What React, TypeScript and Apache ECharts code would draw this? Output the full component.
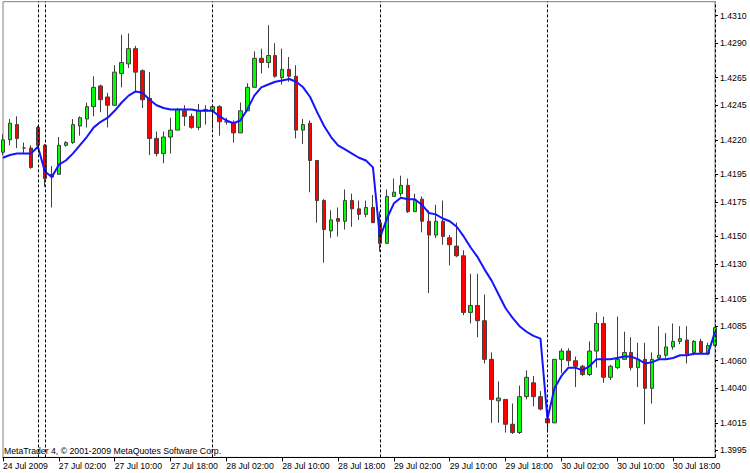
import React, { useEffect, useRef } from "react";
import * as echarts from "echarts";

const FONT = "'Liberation Sans', Arial, sans-serif";
const FONT_SIZE = 8.7;

// Time categories (H1 bars)
const preBars = ["24 Jul 18:00", "24 Jul 19:00", "24 Jul 20:00", "24 Jul 21:00", "24 Jul 22:00", "26 Jul 23:00"];
const fullDays = ["27 Jul", "28 Jul", "29 Jul", "30 Jul"];
const lastBar = ["31 Jul 00:00"];

// Bottom axis labels
const xLabelIdx = [0, 8, 16, 24, 32, 40, 48, 56, 64, 72, 80, 88, 96];
const xLabelText = [
  "24 Jul 2009", "27 Jul 02:00", "27 Jul 10:00", "27 Jul 18:00", "28 Jul 02:00", "28 Jul 10:00",
  "28 Jul 18:00", "29 Jul 02:00", "29 Jul 10:00", "29 Jul 18:00", "30 Jul 02:00", "30 Jul 10:00", "30 Jul 18:00",
];

// Right price axis labels
const yTicks = [1.3995, 1.4015, 1.404, 1.406, 1.4085, 1.4105, 1.413, 1.415, 1.4175, 1.4195, 1.422, 1.4245, 1.4265, 1.429, 1.431];

// Period separators (bar indices)
const separatorIdx = [5, 6, 30, 54, 78, 102];

// [open, close, low, high]
const candles = [
  [1.4211, 1.4220, 1.4209, 1.4224], [1.4220, 1.4232, 1.4216, 1.4235], [1.4231, 1.4221, 1.4214, 1.4237],
  [1.4214, 1.4214, 1.4210, 1.4218], [1.4214, 1.4200, 1.4199, 1.4216], [1.4229, 1.4216, 1.4214, 1.4230],
  [1.4216, 1.4192, 1.4186, 1.4217], [1.4195, 1.4193, 1.4171, 1.4201], [1.4195, 1.4216, 1.4195, 1.4222],
  [1.4216, 1.4218, 1.4215, 1.4219], [1.4218, 1.4231, 1.4217, 1.4235], [1.4230, 1.4236, 1.4223, 1.4237],
  [1.4235, 1.4244, 1.4229, 1.4247], [1.4244, 1.4258, 1.4237, 1.4266], [1.4259, 1.4249, 1.4240, 1.4260],
  [1.4251, 1.4245, 1.4229, 1.4254], [1.4245, 1.4269, 1.4245, 1.4274], [1.4268, 1.4276, 1.4258, 1.4296],
  [1.4275, 1.4286, 1.4272, 1.4297], [1.4286, 1.4269, 1.4255, 1.4288], [1.4270, 1.4249, 1.4243, 1.4271],
  [1.4250, 1.4221, 1.4209, 1.4269], [1.4221, 1.4210, 1.4208, 1.4226], [1.4210, 1.4222, 1.4203, 1.4226],
  [1.4222, 1.4227, 1.4210, 1.4236], [1.4227, 1.4242, 1.4227, 1.4243], [1.4241, 1.4237, 1.4230, 1.4245],
  [1.4237, 1.4229, 1.4228, 1.4239], [1.4229, 1.4241, 1.4227, 1.4246], [1.4241, 1.4242, 1.4231, 1.4245],
  [1.4241, 1.4244, 1.4228, 1.4245], [1.4244, 1.4233, 1.4223, 1.4245], [1.4233, 1.4233, 1.4231, 1.4236],
  [1.4232, 1.4225, 1.4218, 1.4234], [1.4225, 1.4241, 1.4225, 1.4247], [1.4241, 1.4258, 1.4241, 1.4261],
  [1.4258, 1.4279, 1.4258, 1.4284], [1.4279, 1.4276, 1.4268, 1.4286], [1.4276, 1.4281, 1.4272, 1.4303],
  [1.4281, 1.4266, 1.4265, 1.4290], [1.4265, 1.4271, 1.4260, 1.4286], [1.4271, 1.4266, 1.4262, 1.4280],
  [1.4266, 1.4227, 1.4221, 1.4274], [1.4227, 1.4231, 1.4217, 1.4235], [1.4232, 1.4205, 1.4182, 1.4234],
  [1.4205, 1.4176, 1.4160, 1.4205], [1.4176, 1.4155, 1.4131, 1.4177], [1.4154, 1.4162, 1.4149, 1.4169],
  [1.4163, 1.4161, 1.4150, 1.4171], [1.4161, 1.4176, 1.4155, 1.4184], [1.4176, 1.4170, 1.4157, 1.4181],
  [1.4170, 1.4166, 1.4162, 1.4176], [1.4166, 1.4171, 1.4164, 1.4176], [1.4171, 1.4160, 1.4160, 1.4180],
  [1.4160, 1.4145, 1.4139, 1.4168], [1.4145, 1.4179, 1.4145, 1.4184], [1.4179, 1.4182, 1.4179, 1.4192],
  [1.4181, 1.4187, 1.4179, 1.4194], [1.4187, 1.4168, 1.4167, 1.4192], [1.4168, 1.4176, 1.4168, 1.4181],
  [1.4177, 1.4161, 1.4153, 1.4179], [1.4161, 1.4151, 1.4109, 1.4169], [1.4151, 1.4161, 1.4149, 1.4173],
  [1.4161, 1.4150, 1.4144, 1.4176], [1.4149, 1.4144, 1.4129, 1.4151], [1.4143, 1.4136, 1.4135, 1.4160],
  [1.4136, 1.4095, 1.4093, 1.4140], [1.4095, 1.4100, 1.4087, 1.4123], [1.4100, 1.4089, 1.4077, 1.4123],
  [1.4089, 1.4061, 1.4058, 1.4108], [1.4061, 1.4032, 1.4015, 1.4066], [1.4031, 1.4033, 1.4015, 1.4045],
  [1.4032, 1.4014, 1.4008, 1.4032], [1.4014, 1.4008, 1.4007, 1.4029], [1.4008, 1.4034, 1.4007, 1.4042],
  [1.4034, 1.4048, 1.4032, 1.4053], [1.4044, 1.4034, 1.4027, 1.4049], [1.4034, 1.4025, 1.4024, 1.4038],
  [1.4018, 1.4015, 1.4008, 1.4024], [1.4015, 1.4061, 1.4015, 1.4061], [1.4061, 1.4067, 1.4051, 1.4069],
  [1.4067, 1.4060, 1.4056, 1.4069], [1.4060, 1.4056, 1.4041, 1.4063], [1.4056, 1.4050, 1.4049, 1.4057],
  [1.4050, 1.4067, 1.4049, 1.4074], [1.4067, 1.4087, 1.4055, 1.4095], [1.4087, 1.4048, 1.4044, 1.4092],
  [1.4048, 1.4056, 1.4046, 1.4057], [1.4055, 1.4061, 1.4054, 1.4092], [1.4061, 1.4066, 1.4061, 1.4081],
  [1.4066, 1.4055, 1.4053, 1.4077], [1.4055, 1.4061, 1.4041, 1.4073], [1.4061, 1.4040, 1.4014, 1.4073],
  [1.4040, 1.4061, 1.4029, 1.4066], [1.4062, 1.4064, 1.4061, 1.4085], [1.4064, 1.4070, 1.4062, 1.4080],
  [1.4070, 1.4074, 1.4068, 1.4087], [1.4074, 1.4076, 1.4072, 1.4085], [1.4075, 1.4065, 1.4058, 1.4085],
  [1.4066, 1.4074, 1.4064, 1.4075], [1.4074, 1.4066, 1.4065, 1.4076], [1.4065, 1.4071, 1.4064, 1.4073],
  [1.4071, 1.4084, 1.4071, 1.4084],
];

// Moving average (blue)
const maValues = [
  1.4207, 1.4209, 1.4210, 1.4210, 1.4210, 1.4215, 1.4197, 1.4193, 1.4202, 1.4205,
  1.4210, 1.4216, 1.4222, 1.4229, 1.4233, 1.4236, 1.4241, 1.4247, 1.4252, 1.4255,
  1.4254, 1.4249, 1.4245, 1.4243, 1.4242, 1.4242, 1.4242, 1.4242, 1.4241, 1.4241,
  1.4241, 1.4237, 1.4234, 1.4232, 1.4234, 1.4242, 1.4252, 1.4258, 1.4260, 1.4262,
  1.4263, 1.4264, 1.4262, 1.4258, 1.4251, 1.4240, 1.4230, 1.4222, 1.4216, 1.4213,
  1.4210, 1.4207, 1.4205, 1.4200, 1.4149, 1.4163, 1.4174, 1.4178, 1.4177, 1.4177,
  1.4173, 1.4167, 1.4166, 1.4163, 1.4161, 1.4157, 1.4150, 1.4142, 1.4135, 1.4126,
  1.4118, 1.4108, 1.4098, 1.4091, 1.4085, 1.4081, 1.4078, 1.4076, 1.4018, 1.4040,
  1.4049, 1.4055, 1.4055, 1.4053, 1.4056, 1.4061, 1.4061, 1.4061, 1.4062, 1.4063,
  1.4063, 1.4061, 1.4058, 1.4059, 1.4061, 1.4061, 1.4062, 1.4064, 1.4064, 1.4065,
  1.4065, 1.4065, 1.4081,
];

function buildCategories(): string[] {
  const out: string[] = [...preBars];
  fullDays.forEach((d) => {
    for (let h = 0; h < 24; h++) out.push(`${d} ${h < 10 ? "0" : ""}${h}:00`);
  });
  return out.concat(lastBar);
}

export default function App() {
  const ref = useRef<HTMLDivElement>(null);

  useEffect(() => {
    if (!ref.current) return;
    const chart = echarts.init(ref.current, undefined, { renderer: "svg" });
    const categories = buildCategories();

    const option: any = {
      animation: false,
      backgroundColor: "#ffffff",
      textStyle: { fontFamily: FONT },
      grid: {
        left: 2,
        top: 1.7,
        width: 713,
        height: 455.7,
        show: true,
        borderColor: "#808080",
        borderWidth: 1,
        backgroundColor: "transparent",
        containLabel: false,
      },
      xAxis: {
        type: "category",
        data: categories,
        boundaryGap: false,
        axisLine: { show: true, lineStyle: { color: "#000000", width: 1 } },
        axisTick: {
          show: true,
          length: 4,
          interval: (i: number) => xLabelIdx.indexOf(i) >= 0,
          lineStyle: { color: "#000000" },
        },
        axisLabel: {
          show: true,
          interval: (i: number) => xLabelIdx.indexOf(i) >= 0,
          formatter: (_v: string, i: number) => {
            const k = xLabelIdx.indexOf(i);
            return k >= 0 ? xLabelText[k] : "";
          },
          align: "left",
          margin: 4,
          fontSize: FONT_SIZE,
          color: "#000000",
          fontFamily: FONT,
        },
        splitLine: { show: false },
      },
      yAxis: {
        type: "value",
        position: "right",
        min: 1.399,
        max: 1.432,
        axisLine: { show: false },
        axisTick: { show: true, length: 3, customValues: yTicks, lineStyle: { color: "#000000" } },
        axisLabel: {
          customValues: yTicks,
          formatter: (v: number) => v.toFixed(4),
          fontSize: FONT_SIZE,
          color: "#000000",
          margin: 5,
          fontFamily: FONT,
        },
        splitLine: { show: false },
      },
      series: [
        {
          type: "candlestick",
          data: candles,
          barWidth: 4,
          clip: true,
          itemStyle: {
            color: "#00ff00",
            color0: "#ff0000",
            borderColor: "#404040",
            borderColor0: "#404040",
            borderWidth: 1,
          },
          markLine: {
            silent: true,
            symbol: ["none", "none"],
            label: { show: false },
            lineStyle: { color: "#000000", type: [3, 2], width: 1 },
            data: separatorIdx.map((i) => ({ xAxis: categories[i] })),
          },
          z: 2,
        },
        {
          type: "line",
          data: maValues,
          showSymbol: false,
          symbol: "none",
          lineStyle: { color: "#1414ff", width: 2 },
          z: 3,
        },
      ],
      graphic: [
        {
          type: "text",
          left: 4,
          top: 446,
          style: {
            text: "MetaTrader 4, © 2001-2009 MetaQuotes Software Corp.",
            fill: "#000000",
            font: `${FONT_SIZE}px ${FONT}`,
          },
        },
      ],
    };

    chart.setOption(option);
    return () => chart.dispose();
  }, []);

  return (
    <div
      ref={ref}
      style={{ position: "fixed", left: 0, top: 0, width: 750, height: 473, background: "#ffffff" }}
    />
  );
}
